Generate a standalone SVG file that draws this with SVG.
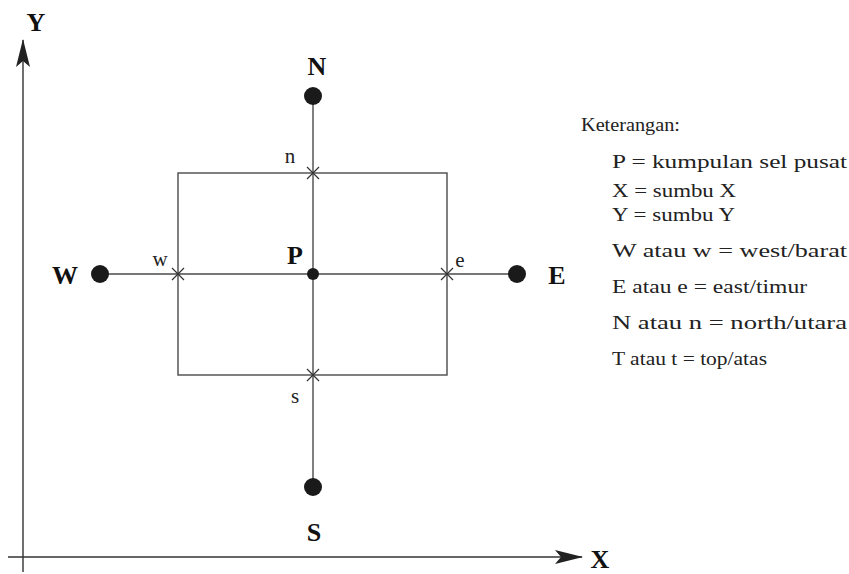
<svg xmlns="http://www.w3.org/2000/svg" width="849" height="574" viewBox="0 0 849 574">
<style>
.ax{stroke:#333;stroke-width:1.4;fill:none}
.ln{stroke:#4a4a4a;stroke-width:1.4;fill:none}
.cr{stroke:#333;stroke-width:1.2}
.dot{fill:#1a1a1a}
.big{font-family:"Liberation Serif","DejaVu Serif",serif;font-weight:bold;font-size:26px;fill:#111;text-anchor:middle}
.sm{font-family:"Liberation Serif","DejaVu Serif",serif;font-size:21px;fill:#222;text-anchor:middle}
.lg{font-family:"Liberation Serif","DejaVu Serif",serif;font-size:19px;fill:#222}
</style>
<defs>
<marker id="ah" viewBox="0 0 28 14" refX="27" refY="7" markerWidth="28" markerHeight="14" markerUnits="userSpaceOnUse" orient="auto">
<path d="M0,0 L28,7 L0,14 L6,7 Z" fill="#222"/>
</marker>
</defs>
<rect width="849" height="574" fill="#fff"/>
<g id="connectors">
<line class="ax" x1="23" y1="572" x2="23" y2="40" marker-end="url(#ah)"/>
<line class="ax" x1="8" y1="557" x2="582" y2="557" marker-end="url(#ah)"/>
<rect class="ln" x="178" y="173" width="269" height="202"/>
<line class="ln" x1="313" y1="96" x2="313" y2="487"/>
<line class="ln" x1="100" y1="274" x2="517" y2="274"/>
</g>
<g id="axis-labels">
<text class="big" x="36" y="31">Y</text>
<text class="big" x="600" y="568">X</text>
</g>
<g id="node-N"><circle class="dot" cx="313" cy="96" r="9"/><text class="big" x="317" y="75">N</text></g>
<g id="node-S"><circle class="dot" cx="313" cy="487" r="9"/><text class="big" x="314" y="541">S</text></g>
<g id="node-W"><circle class="dot" cx="100" cy="274" r="9"/><text class="big" x="65" y="284">W</text></g>
<g id="node-E"><circle class="dot" cx="517" cy="274" r="9"/><text class="big" x="557" y="284">E</text></g>
<g id="node-P"><circle class="dot" cx="313" cy="274" r="6"/><text class="big" x="295" y="264">P</text></g>
<g id="face-n"><path class="cr" d="M307,167 L319,179 M319,167 L307,179"/><text class="sm" x="290" y="163">n</text></g>
<g id="face-s"><path class="cr" d="M307,369 L319,381 M319,369 L307,381"/><text class="sm" x="295" y="403">s</text></g>
<g id="face-w"><path class="cr" d="M172,268 L184,280 M184,268 L172,280"/><text class="sm" x="160" y="266">w</text></g>
<g id="face-e"><path class="cr" d="M441,268 L453,280 M453,268 L441,280"/><text class="sm" x="460" y="267">e</text></g>
<g id="legend">
<text class="lg" x="581" y="131" textLength="99" lengthAdjust="spacingAndGlyphs">Keterangan:</text>
<text class="lg" x="612" y="168" textLength="235" lengthAdjust="spacingAndGlyphs">P = kumpulan sel pusat</text>
<text class="lg" x="612" y="197" textLength="124" lengthAdjust="spacingAndGlyphs">X = sumbu X</text>
<text class="lg" x="612" y="221" textLength="123" lengthAdjust="spacingAndGlyphs">Y = sumbu Y</text>
<text class="lg" x="612" y="257" textLength="235" lengthAdjust="spacingAndGlyphs">W atau w = west/barat</text>
<text class="lg" x="612" y="293" textLength="195" lengthAdjust="spacingAndGlyphs">E atau e = east/timur</text>
<text class="lg" x="612" y="329" textLength="235" lengthAdjust="spacingAndGlyphs">N atau n = north/utara</text>
<text class="lg" x="612" y="365" textLength="155" lengthAdjust="spacingAndGlyphs">T atau t = top/atas</text>
</g>
</svg>
